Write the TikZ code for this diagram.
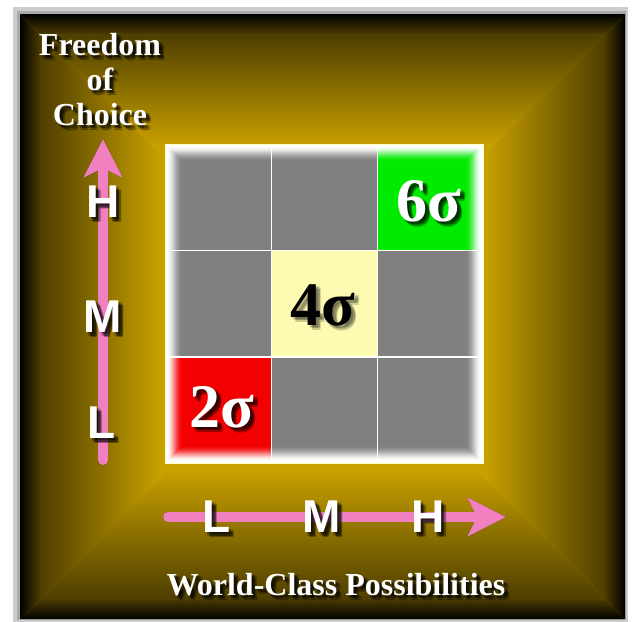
\documentclass[tikz,border=0pt]{standalone}
\usepackage{fontspec}
\setmainfont{Liberation Serif}
\newfontfamily\axisfont{Liberation Sans}
\usetikzlibrary{arrows.meta,calc}
\definecolor{goldbg}{RGB}{200,160,0}
\definecolor{darkolive}{RGB}{78,62,0}
\definecolor{pinkarrow}{RGB}{240,128,192}
\definecolor{cellgray}{RGB}{128,128,128}
\definecolor{cellred}{RGB}{245,0,0}
\definecolor{cellgreen}{RGB}{0,235,0}
\definecolor{cellyellow}{RGB}{253,250,178}
\definecolor{framegrayA}{RGB}{205,205,205}
\definecolor{framegrayB}{RGB}{170,170,170}
\definecolor{edgeyellow}{RGB}{255,255,190}

\newcommand\shtext[4]{%
  \foreach \i/\dx/\dy in {1/2/2,2/3.5/2,3/2/3.5,4/3.5/3.5,5/5/3.5,6/3.5/5,7/5/5} {
    \node[#3, shadowstyle] (#1-s\i) at ($(#2)+(\dx,\dy)$) {#4};
  }
  \node[#3] (#1) at (#2) {#4};
}

\tikzset{
  shadowstyle/.style={text=black, text opacity=0.2},
  serifT/.style={inner sep=0pt, outer sep=0pt, font=\fontsize{32}{35}\selectfont\bfseries, text=white, anchor=base},
  axisL/.style={inner sep=0pt, outer sep=0pt, font=\axisfont\fontsize{46}{50}\selectfont\bfseries, text=white},
  sigmaT/.style={inner sep=0pt, outer sep=0pt, font=\fontsize{62}{66}\selectfont\bfseries},
  cellbox/.style={inner sep=0pt, outer sep=0pt, minimum size=105pt, draw=none},
  axisarrow/.style={line width=10pt, line cap=round, -{Stealth[length=38pt,width=38pt,inset=9pt]}},
}

\begin{document}
\begin{tikzpicture}[x=1pt,y=-1pt]
\useasboundingbox (0,0) rectangle (633,622);
\fill[white] (0,0) rectangle (633,622);
% frame
\fill[framegrayA] (13,7) rectangle (628,622);
\fill[framegrayB] (17,11) rectangle (626,620);
\fill[goldbg] (20,14) rectangle (625,619);
\coordinate (O) at (322.5,316.5);
\begin{scope}
  \clip (20,14) -- (O) -- (20,619) -- cycle;
  \shade[left color=black, right color=darkolive] (20,14) rectangle (41,619);
  \shade[left color=darkolive, right color=goldbg] (40,14) rectangle (160,619);
\end{scope}
\begin{scope}
  \clip (625,14) -- (O) -- (625,619) -- cycle;
  \shade[left color=darkolive, right color=black] (604,14) rectangle (625,619);
  \shade[left color=goldbg, right color=darkolive] (485,14) rectangle (605,619);
\end{scope}
\begin{scope}
  \clip (20,14) -- (O) -- (625,14) -- cycle;
  \shade[top color=black, bottom color=darkolive] (20,14) rectangle (625,35);
  \shade[top color=darkolive, bottom color=goldbg] (20,34) rectangle (625,145);
\end{scope}
\begin{scope}
  \clip (20,619) -- (O) -- (625,619) -- cycle;
  \shade[top color=darkolive, bottom color=black] (20,598) rectangle (625,619);
  \shade[top color=goldbg, bottom color=darkolive] (20,470) rectangle (625,599);
\end{scope}

% grid
\fill[white] (165,144) rectangle (483,463);
\node[cellbox, fill=cellgray]   (c13) at (218,197) {};
\node[cellbox, fill=cellgray]   (c23) at (324,197) {};
\node[cellbox, fill=cellgreen]  (c33) at (430,197) {};
\node[cellbox, fill=cellgray]   (c12) at (218,303.5) {};
\node[cellbox, fill=cellyellow] (c22) at (324,303.5) {};
\node[cellbox, fill=cellgray]   (c32) at (430,303.5) {};
\node[cellbox, fill=cellred]    (c11) at (218,410) {};
\node[cellbox, fill=cellgray]   (c21) at (324,410) {};
\node[cellbox, fill=cellgray]   (c31) at (430,410) {};
\foreach \k in {0,...,14} {
  \pgfmathsetmacro\op{0.9*(1-\k/15)^2}
  \draw[white, opacity=\op, line width=1.1pt] ({168+\k},{147+\k}) rectangle ({480-\k},{460-\k});
}
\draw[white, line width=3pt] (166.5,145.5) rectangle (481.5,461.5);
\draw[edgeyellow, line width=0.8pt] (165,144) rectangle (483,463);

% cell labels
\shtext{t6}{429,201}{sigmaT, text=white}{6σ}
\shtext{t4}{323,305}{sigmaT, text=black, shadowstyle/.style={text=black, text opacity=0.1}}{4σ}
\shtext{t2}{222,407}{sigmaT, text=white}{2σ}

% axes
\coordinate (vb) at (103,460);
\coordinate (vt) at (103,139);
\coordinate (hl) at (168,517);
\coordinate (hr) at (506,517);
\begin{scope}[shift={(4,4)}]
  \draw[axisarrow, draw=black, fill=black, opacity=0.3] (vb) -- (vt);
  \draw[axisarrow, draw=black, fill=black, opacity=0.3] (hl) -- (hr);
\end{scope}
\begin{scope}[shift={(2,2)}]
  \draw[axisarrow, draw=black, fill=black, opacity=0.3] (vb) -- (vt);
  \draw[axisarrow, draw=black, fill=black, opacity=0.3] (hl) -- (hr);
\end{scope}
\draw[axisarrow, draw=pinkarrow, fill=pinkarrow] (vb) -- (vt);
\draw[axisarrow, draw=pinkarrow, fill=pinkarrow] (hl) -- (hr);

\shtext{vH}{103,202}{axisL}{H}
\shtext{vM}{103,317}{axisL}{M}
\shtext{vL}{102,423}{axisL}{L}
\shtext{hL}{217,517}{axisL}{L}
\shtext{hM}{322,517}{axisL}{M}
\shtext{hH}{428,517}{axisL}{H}

% titles
\shtext{f1}{100,55}{serifT}{Freedom}
\shtext{f2}{100,90}{serifT}{of}
\shtext{f3}{100,125}{serifT}{Choice}
\shtext{wc}{336,595}{serifT}{World-Class Possibilities}
\end{tikzpicture}
\end{document}
